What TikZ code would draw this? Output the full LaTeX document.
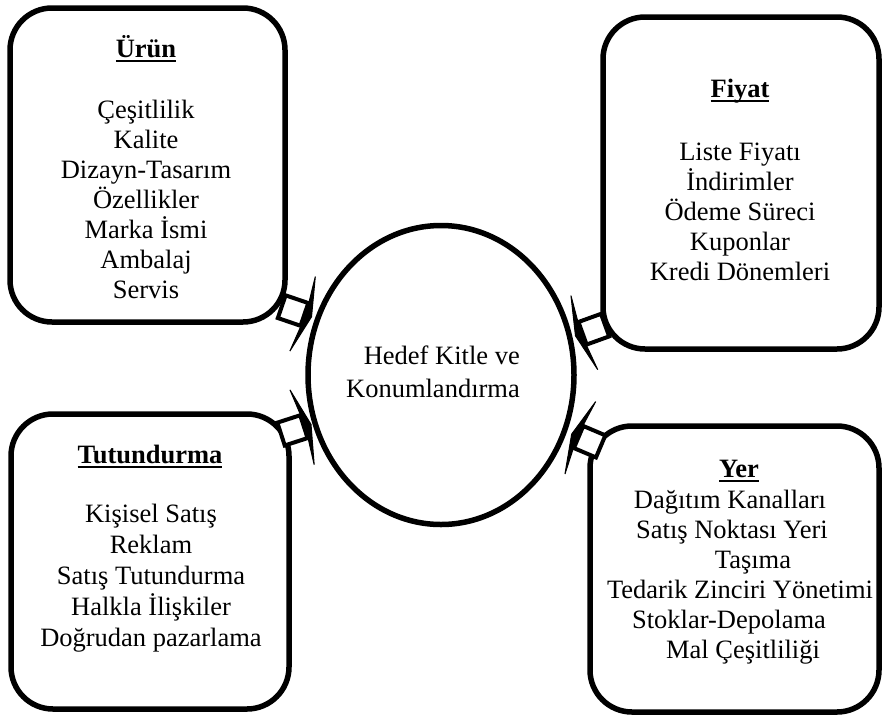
\documentclass[tikz,border=0pt]{standalone}
\usepackage{fontspec}
\setmainfont{Liberation Serif}
\usetikzlibrary{shapes.geometric,arrows.meta,calc}
\newcommand\ttl[1]{\setbox0\hbox{\bfseries #1}\rlap{\rule[-5pt]{\wd0}{1.8pt}}\box0}
\newcommand\connect[3]{%
  \path let \p1=($(#3)-(#2)$), \n1={atan2(\y1,\x1)} in
    node[sqr, rotate=\n1] (#1) at ($(#3)!20pt!(#2)$) {};
  \draw[wedgetip] (#1) -- (#3);
}
\begin{document}
\begin{tikzpicture}[x=1pt,y=-1pt,
  box/.style={draw, line width=5.5pt, rounded corners=42pt, rectangle, inner sep=0pt},
  ell/.style={draw, ellipse, line width=5.5pt, inner sep=0pt},
  sqr/.style={draw, fill=white, line width=4pt, minimum size=24pt, inner sep=0pt, rectangle},
  txt/.style={anchor=base, inner sep=0pt, font=\fontsize{26.5}{30}\selectfont},
  ttlnode/.style={anchor=base, inner sep=0pt, font=\fontsize{26.5}{30}\selectfont\bfseries},
  wedgetip/.style={line width=1pt, line join=miter, -{Stealth[length=11pt,width=92pt,inset=4pt]}}
]
\useasboundingbox (0,0) rectangle (883,715);

% central ellipse
\node[ell, minimum width=266pt, minimum height=299pt] (ell) at (441,375) {};
\node[txt, anchor=base east] (h1) at (520,364) {Hedef Kitle ve};
\node[txt, anchor=base east] (h2) at (520,397) {Konumlandırma};

% boxes
\node[box, minimum width=275pt, minimum height=314pt] (urun) at (147.5,165) {};
\node[box, minimum width=276pt, minimum height=332pt] (fiyat) at (741,183) {};
\node[box, minimum width=278pt, minimum height=295pt] (tut) at (150,561.5) {};
\node[box, minimum width=289pt, minimum height=286pt] (yer) at (734.5,569) {};

% Ürün
\node[ttlnode] (urunT) at (146,57) {\ttl{Ürün}};
\foreach \t [count=\i from 0] in {Çeşitlilik,Kalite,Dizayn-Tasarım,Özellikler,Marka İsmi,Ambalaj,Servis}
  \node[txt] (u\i) at (146,118+30*\i) {\t};

% Fiyat
\node[ttlnode] (fiyatT) at (740,97) {\ttl{Fiyat}};
\foreach \t [count=\i from 0] in {Liste Fiyatı,İndirimler,Ödeme Süreci,Kuponlar,Kredi Dönemleri}
  \node[txt] (f\i) at (740,160+30*\i) {\t};

% Tutundurma
\node[ttlnode] (tutT) at (150,463) {\ttl{Tutundurma}};
\foreach \t [count=\i from 0] in {Kişisel Satış,Reklam,Satış Tutundurma,Halkla İlişkiler,Doğrudan pazarlama}
  \node[txt] (t\i) at (151,522+31*\i) {\t};

% Yer
\node[ttlnode] (yerT) at (739,477) {\ttl{Yer}};
\foreach \t/\x [count=\i from 0] in {Dağıtım Kanalları/730,Satış Noktası Yeri/732,Taşıma/753,Tedarik Zinciri Yönetimi/740,Stoklar-Depolama/729,Mal Çeşitliliği/743}
  \node[txt] (y\i) at (\x,508+30*\i) {\t};

% connectors
\coordinate (s1) at (274.2,304.1); \coordinate (e1) at (312,317);
\coordinate (s2) at (612.6,322.4); \coordinate (e2) at (575,336);
\coordinate (s3) at (273.5,436.5); \coordinate (e3) at (311.5,424.2);
\coordinate (s4) at (608,449.5);   \coordinate (e4) at (571.2,433.9);
\connect{sq1}{s1}{e1}
\connect{sq2}{s2}{e2}
\connect{sq3}{s3}{e3}
\connect{sq4}{s4}{e4}
\end{tikzpicture}
\end{document}
